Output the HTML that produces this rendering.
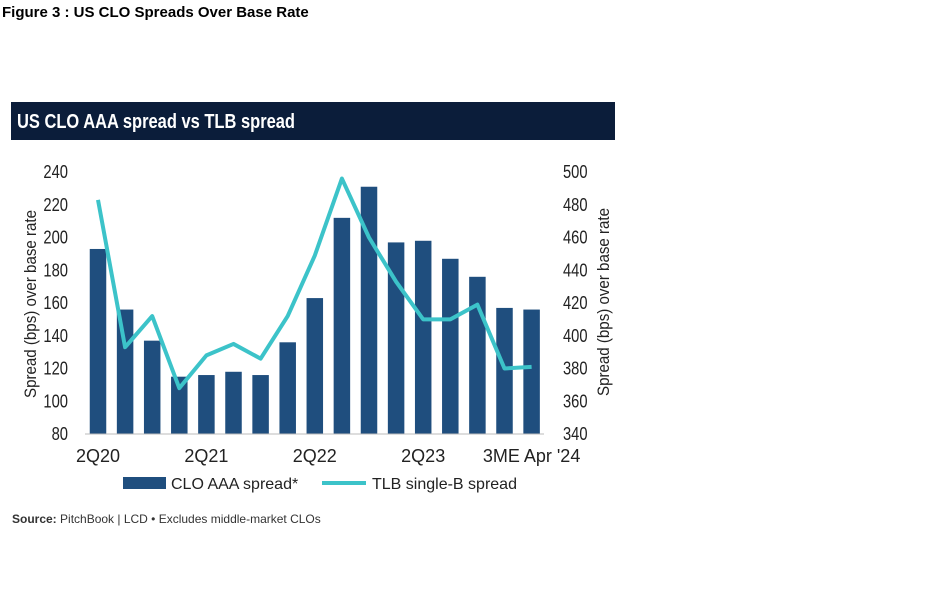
<!DOCTYPE html>
<html><head><meta charset="utf-8"><style>
body{margin:0;background:#fff;width:940px;height:611px;overflow:hidden;font-family:"Liberation Sans",sans-serif;}
</style></head><body>
<svg width="940" height="611" xmlns="http://www.w3.org/2000/svg" font-family="Liberation Sans, sans-serif" id="chart">
<text x="2" y="17" font-size="15" font-weight="bold" fill="#000">Figure 3 : US CLO Spreads Over Base Rate</text>
<rect x="11" y="102" width="604" height="38" fill="#0b1d3a"/>
<text x="17" y="128" font-size="20" font-weight="bold" fill="#fff" textLength="278" lengthAdjust="spacingAndGlyphs">US CLO AAA spread vs TLB spread</text>
<g id="bars"></g>
<line x1="85" y1="434" x2="544" y2="434" stroke="#bbb" stroke-width="1"/>
<g id="ticks" font-size="18" fill="#222"></g>
<path id="line" fill="none" stroke="#3cc3c9" stroke-width="4" stroke-linejoin="round"/>
<text transform="translate(36,304) rotate(-90)" text-anchor="middle" font-size="17" fill="#222" textLength="188" lengthAdjust="spacingAndGlyphs">Spread (bps) over base rate</text>
<text transform="translate(609,302) rotate(-90)" text-anchor="middle" font-size="17" fill="#222" textLength="188" lengthAdjust="spacingAndGlyphs">Spread (bps) over base rate</text>
<rect x="123" y="477" width="43" height="12" fill="#1f4e7e"/>
<text x="171" y="489" font-size="16" fill="#222">CLO AAA spread*</text>
<line x1="322" y1="483" x2="366" y2="483" stroke="#3cc3c9" stroke-width="4"/>
<text x="372" y="489" font-size="16" fill="#222">TLB single-B spread</text>
<text x="12" y="523" font-size="12" fill="#333"><tspan font-weight="bold">Source:</tspan> PitchBook | LCD • Excludes middle-market CLOs</text>
</svg>
<script>
const categories=["2Q20","3Q20","4Q20","1Q21","2Q21","3Q21","4Q21","1Q22","2Q22","3Q22","4Q22","1Q23","2Q23","3Q23","4Q23","1Q24","3ME Apr '24"];
const xLabels=["2Q20","2Q21","2Q22","2Q23","3ME Apr '24"];
const cloValues=[193,156,137,115,116,118,116,136,163,212,231,197,198,187,176,157,156];
const tlbValues=[483,393,412,368,388,395,386,412,449,496,460,433,410,410,419,380,381];
const leftTicks=[80,100,120,140,160,180,200,220,240];
const rightTicks=[340,360,380,400,420,440,460,480,500];
const NS="http://www.w3.org/2000/svg";
const x0=98,dx=27.1,bw=16.5,yB=434,yT=172;
const xPos=i=>x0+i*dx;
const yL=v=>yB-(v-80)/160*(yB-yT);
const yR=v=>yB-(v-340)/160*(yB-yT);
const bars=document.getElementById('bars');
cloValues.forEach((v,i)=>{
 const r=document.createElementNS(NS,'rect');
 r.setAttribute('x',xPos(i)-bw/2);r.setAttribute('y',yL(v));
 r.setAttribute('width',bw);r.setAttribute('height',yB-yL(v));
 r.setAttribute('fill','#1f4e7e');
 
 
 bars.appendChild(r);
});
document.getElementById('line').setAttribute('d',tlbValues.map((v,i)=>(i?'L':'M')+xPos(i)+','+yR(v)).join(''));
const tk=document.getElementById('ticks');
function t(x,y,s,anchor,name,len){
 const e=document.createElementNS(NS,'text');
 e.setAttribute('x',x);e.setAttribute('y',y);e.setAttribute('text-anchor',anchor);e.textContent=s;
 if(len){e.setAttribute('textLength',len);e.setAttribute('lengthAdjust','spacingAndGlyphs');}
 
 
 tk.appendChild(e);
}
leftTicks.forEach(v=>t(68,yL(v)+6,v,'end','y-tick-left',String(v).length*8.2));
rightTicks.forEach(v=>t(563,yR(v)+6,v,'start','y-tick-right',24.5));
xLabels.forEach(l=>{const i=categories.indexOf(l);const e=t(xPos(i),462,l,'middle','x-tick-label');});
</script>
</body></html>
